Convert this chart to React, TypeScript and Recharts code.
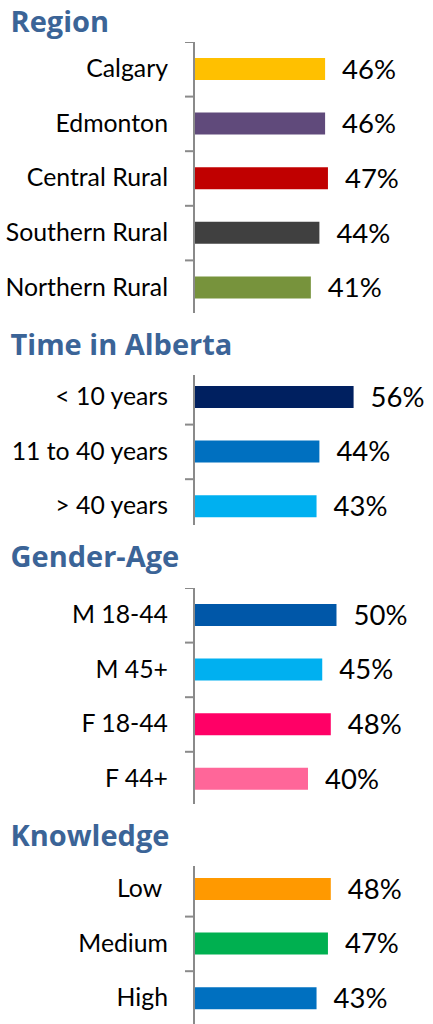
import { Bar, BarChart, Cell, LabelList, XAxis, YAxis } from "recharts";

const regionNames = ["Calgary", "Edmonton", "Central Rural", "Southern Rural", "Northern Rural"];
const regionValues = [46, 46, 47, 44, 41];
const regionColors = ["#FFC000", "#604A7B", "#C00000", "#404040", "#77933C"];

const timeNames = ["< 10 years", "11 to 40 years", "> 40 years"];
const timeValues = [56, 44, 43];
const timeColors = ["#002060", "#0070C0", "#00B0F0"];

const genderNames = ["M 18-44", "M 45+", "F 18-44", "F 44+"];
const genderValues = [50, 45, 48, 40];
const genderColors = ["#0057A8", "#00B0F0", "#FF0066", "#FF6699"];

const knowledgeNames = ["Low\u00a0", "Medium", "High"];
const knowledgeValues = [48, 47, 43];
const knowledgeColors = ["#FF9900", "#00B050", "#0070C0"];

const W = 433;
const AXIS_X = 194;
const BAND = 54.6;
const AXIS_COLOR = "#8a8a8a";
const TITLE_COLOR = "#3B6497";
const LABEL_FONT = "Lato, 'Open Sans', sans-serif";

function CatTick({ y, payload }: any) {
  const top = y - BAND / 2;
  return (
    <g>
      <line x1={AXIS_X - 9} x2={AXIS_X} y1={top} y2={top} stroke={AXIS_COLOR} strokeWidth={2} />
      <text
        x={AXIS_X - 26}
        y={y}
        dy={7.8}
        textAnchor="end"
        fontFamily={LABEL_FONT}
        fontSize={24.8}
        fill="#000"
      >
        {payload.value}
      </text>
    </g>
  );
}

interface SectionProps {
  names: string[];
  values: number[];
  colors: string[];
  bandTop: number; // y of first band boundary
  clipTop: number;
  clipBottom: number;
}

function Section({ names, values, colors, bandTop, clipTop, clipBottom }: SectionProps) {
  const data = names.map((name, i) => ({ name, value: values[i] }));
  const h = names.length * BAND;
  return (
    <div
      style={{
        position: "absolute",
        left: 0,
        top: clipTop,
        width: W,
        height: clipBottom - clipTop,
        overflow: "hidden",
      }}
    >
      <div style={{ position: "absolute", left: 0, top: bandTop - clipTop }}>
        <BarChart
          width={W}
          height={h}
          data={data}
          layout="vertical"
          margin={{ top: 0, right: 11, bottom: 0, left: 0 }}
        >
          <XAxis type="number" domain={[0, 80]} hide />
          <YAxis
            type="category"
            dataKey="name"
            width={AXIS_X}
            interval={0}
            axisLine={{ stroke: AXIS_COLOR, strokeWidth: 2 }}
            tickLine={false}
            tick={<CatTick />}
          />
          <Bar dataKey="value" barSize={22} isAnimationActive={false}>
            {data.map((d, i) => (
              <Cell key={d.name} fill={colors[i]} />
            ))}
            <LabelList
              dataKey="value"
              position="right"
              offset={17}
              formatter={(v: any) => `${v}%`}
              fontFamily={LABEL_FONT}
              fontSize={27.5}
              fill="#000"
            />
          </Bar>
        </BarChart>
      </div>
    </div>
  );
}

const titles = [
  { text: "Region", y: 32.3 },
  { text: "Time in Alberta", y: 355 },
  { text: "Gender-Age", y: 566.7 },
  { text: "Knowledge", y: 846 },
];

export default function App() {
  return (
    <div style={{ position: "absolute", left: 0, top: 0, width: W, height: 1024, background: "#fff", overflow: "hidden" }}>
      <svg width={W} height={1024} style={{ position: "absolute", left: 0, top: 0 }}>
        {titles.map((t) => (
          <text
            key={t.text}
            x={10.5}
            y={t.y}
            fontFamily="'Open Sans', sans-serif"
            fontWeight="bold"
            fontSize={29}
            fill={TITLE_COLOR}
          >
            {t.text}
          </text>
        ))}
      </svg>
      <Section names={regionNames} values={regionValues} colors={regionColors} bandTop={42} clipTop={41} clipBottom={312.7} />
      <Section names={timeNames} values={timeValues} colors={timeColors} bandTop={370.4} clipTop={375} clipBottom={525} />
      <Section names={genderNames} values={genderValues} colors={genderColors} bandTop={588.3} clipTop={587.3} clipBottom={804} />
      <Section names={knowledgeNames} values={knowledgeValues} colors={knowledgeColors} bandTop={862.1} clipTop={866} clipBottom={1024} />
    </div>
  );
}
